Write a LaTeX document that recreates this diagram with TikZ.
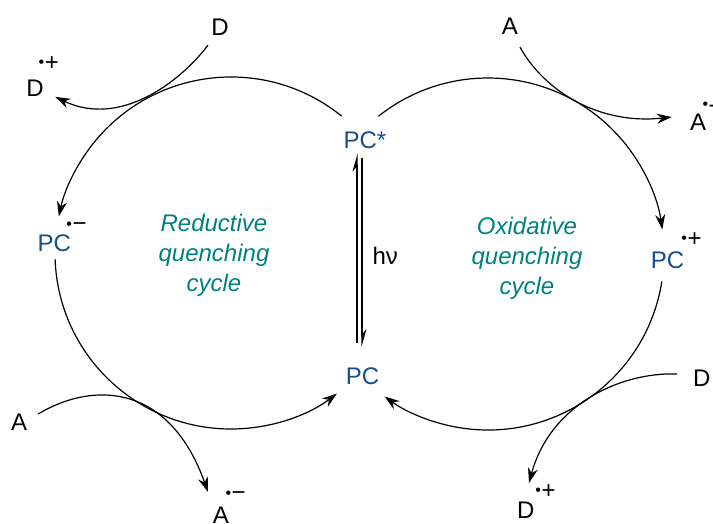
\documentclass[tikz,border=0pt]{standalone}
\usepackage{fontspec}
\setmainfont{Liberation Sans}
\usetikzlibrary{arrows.meta,calc}
\definecolor{pcblue}{RGB}{22,78,140}
\definecolor{cycteal}{RGB}{0,128,128}
\newcommand{\radsgn}[3]{\rlap{\hspace{#1}\raisebox{#2}{\color{black}\fontsize{16}{16}\selectfont\raisebox{2.4pt}{•}\hspace{0.6pt}\fontsize{24}{24}\selectfont #3}}}
\tikzset{
  lab/.style={inner sep=0pt, font=\fontsize{24}{30}\selectfont, anchor=base},
  pcl/.style={lab, text=pcblue},
  cyctext/.style={inner sep=0pt, font=\fontsize{24}{30}\selectfont\itshape, text=cycteal, align=center},
  cyc/.style={line width=1.2pt, -{Stealth[length=15pt,width=10pt]}},
  eqarrow/.style={line width=1.2pt, -{Stealth[harpoon,length=16pt,width=9pt]}}
}
\begin{document}
\begin{tikzpicture}[x=1pt,y=1pt]
\useasboundingbox (0,0) rectangle (713,523);
% cycle centres
\coordinate (Lc) at (231,270);
\coordinate (Rc) at (488,269);
% labels
\node[lab] (Dt) at (220,487.7) {D};
\node[lab] (Dp1) at (35,426.1) {D\radsgn{-5pt}{26.8pt}{+}};
\node[lab] (At) at (510,488) {A};
\node[lab] (Am1) at (698,392.7) {A\radsgn{-3.5pt}{18pt}{-}};
\node[pcl] (PCm) at (54.2,271.9) {PC\radsgn{-4.4pt}{19.6pt}{−}};
\node[pcl] (PCs) at (365,374.7) {PC*};
\node[pcl] (PCp) at (667.5,254.6) {PC\radsgn{-2.7pt}{22.1pt}{+}};
\node[pcl] (PC) at (362.5,139) {PC};
\node[lab] (hv) at (385.3,258) {hν};
\node[lab] (Ab) at (19.2,92.3) {A};
\node[lab] (Am2) at (220.8,-0.9) {A\radsgn{-3.3pt}{23.2pt}{−}};
\node[lab] (Dr) at (701.7,136.3) {D};
\node[lab] (Dp2) at (525.8,4.4) {D\radsgn{1pt}{20.6pt}{+}};
\node[cyctext] (red) at (214,267.5) {Reductive\\quenching\\cycle};
\node[cyctext] (oxi) at (527,265) {Oxidative\\quenching\\cycle};
% cycle arcs
\draw[cyc] ([shift={(51:176pt)}]Lc) arc[start angle=51,end angle=168,radius=176pt];
\draw[cyc] ([shift={(182:176pt)}]Lc) arc[start angle=182,end angle=307,radius=176pt];
\draw[cyc] ([shift={(128.5:176pt)}]Rc) arc[start angle=128.5,end angle=8,radius=176pt];
\draw[cyc] ([shift={(-9:176pt)}]Rc) arc[start angle=-9,end angle=-126,radius=176pt];
% electron transfer arrows
\draw[cyc] ([shift={(-12,-9.7)}]Dt.south) .. controls (180,441) and (120,395) .. ([shift={(11.4,0)}]Dp1.base east);
\draw[cyc] ([shift={(10,-12)}]At.south) .. controls (545,431) and (600,398) .. ([shift={(-18,13.3)}]Am1.base west);
\draw[cyc] ([shift={(10.8,16.7)}]Ab.base east) .. controls (95,143) and (170,138) .. ([shift={(-12.8,31.9)}]Am2.base);
\draw[cyc] ([shift={(-16,12.7)}]Dr.base west) .. controls (620,151) and (550,118) .. ([shift={(3.2,35.6)}]Dp2.base);
% photoexcitation
\draw[eqarrow] ([shift={(-5.5,23.8)}]PC.north) -- ([shift={(-8,-4.7)}]PCs.south);
\draw[eqarrow] ([shift={(-3,-9.7)}]PCs.south) -- ([shift={(-0.5,19.8)}]PC.north);
\end{tikzpicture}
\end{document}
